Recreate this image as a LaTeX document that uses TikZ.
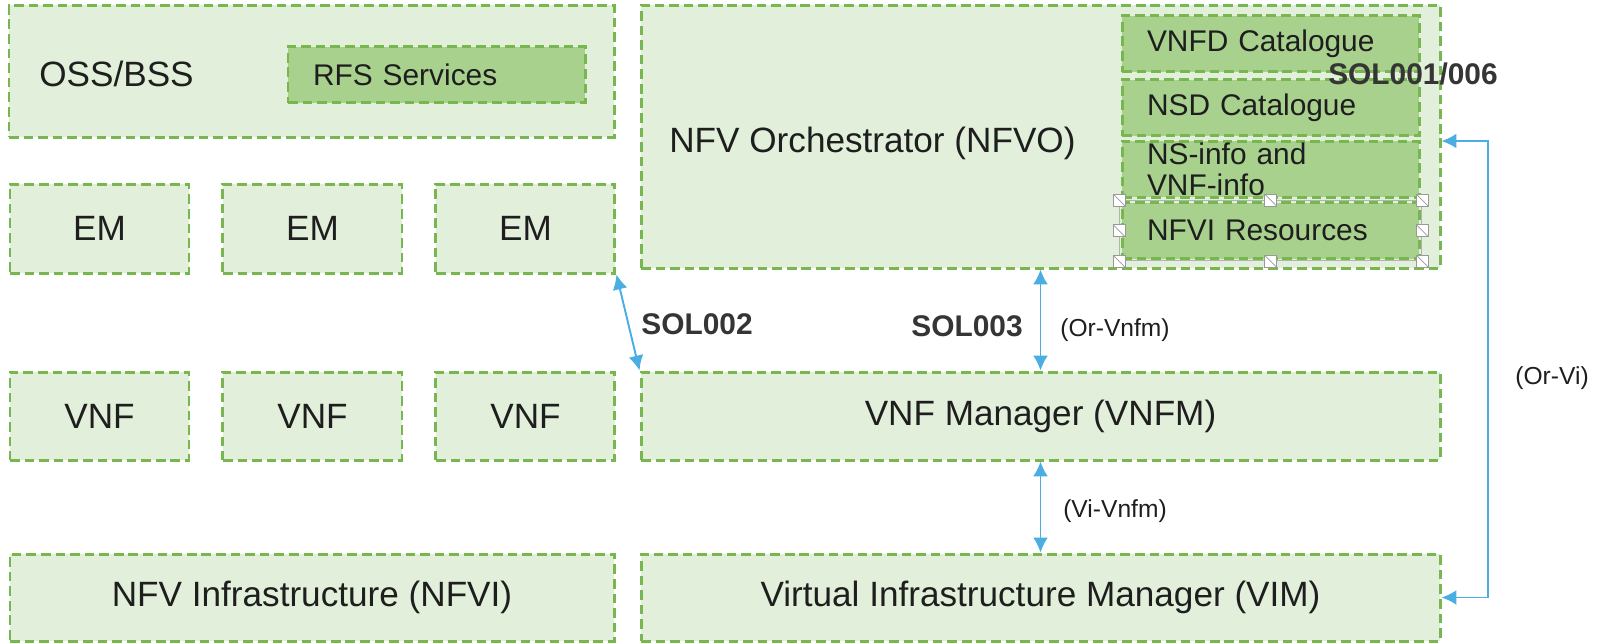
\documentclass[tikz,border=0pt]{standalone}
\usepackage{fontspec}
\setmainfont{Liberation Sans}
\usepackage{xcolor}
\usepackage{tikz}
\usetikzlibrary{arrows.meta, positioning, calc}

\definecolor{boxfill}{HTML}{E2EFDA}
\definecolor{subfill}{HTML}{A9D18E}
\definecolor{dashgreen}{HTML}{78B650}
\definecolor{linkblue}{HTML}{4AAEE3}
\definecolor{txt}{HTML}{1E1E1E}

\begin{document}
\begin{tikzpicture}[node distance=0.62cm, auto,
    block/.style={rectangle, draw=dashgreen, fill=boxfill, line width=1.7pt, dash pattern=on 5.5pt off 2.8pt, minimum width=3.58cm, minimum height=1.78cm, text centered, inner sep=0pt, text=txt, font=\fontsize{20}{24}\selectfont},
    subblock/.style={rectangle, draw=dashgreen, fill=subfill, line width=1.7pt, dash pattern=on 5.5pt off 2.8pt, minimum width=5.94cm, minimum height=1.12cm, text width=4.94cm, align=left, inner xsep=0.5cm, inner ysep=0pt, text=txt, font=\fontsize{17}{17.6}\selectfont},
    blocktext/.style={text=txt, font=\fontsize{20}{24}\selectfont, inner sep=0pt},
    sollabel/.style={text=txt!90, font=\bfseries\fontsize{17}{20}\selectfont, inner sep=0pt},
    ifacelabel/.style={text=txt, font=\fontsize{14}{16}\selectfont, inner sep=0pt},
    handle/.style={draw=gray!80, fill=white, line width=0.4pt, minimum size=6.8pt, inner sep=0pt, path picture={\draw[gray!80, line width=0.4pt] (path picture bounding box.north west) -- (path picture bounding box.south east);}},
    line/.style={draw=linkblue, line width=1.1pt, {Latex[length=8.5pt,width=8.5pt]}-{Latex[length=8.5pt,width=8.5pt]}}]

    \useasboundingbox (0,0) rectangle (32.02,-12.86);

    % management side
    \node [block, minimum width=12.1cm, minimum height=2.64cm] (oss) at (6.23,-1.42) {};
    \node [blocktext, anchor=west] (osstext) at (0.78,-1.47) {OSS/BSS};
    \node [subblock] (rfs) at (8.73,-1.49) {RFS Services};

    \node [block] (em1) at (1.99,-4.57) {EM};
    \node [block, right=of em1] (em2) {EM};
    \node [block, right=of em2] (em3) {EM};

    \node [block, minimum height=1.76cm] (vnf1) at (1.99,-8.32) {VNF};
    \node [block, minimum height=1.76cm, right=of vnf1] (vnf2) {VNF};
    \node [block, minimum height=1.76cm, right=of vnf2] (vnf3) {VNF};

    \node [block, minimum width=12.08cm, minimum height=1.74cm] (nfvi) at (6.24,-11.95) {NFV Infrastructure (NFVI)};

    % MANO side
    \node [block, minimum width=15.98cm, minimum height=5.26cm] (nfvo) at (20.81,-2.73) {};
    \node [blocktext, anchor=west] (nfvotext) at (13.38,-2.86) {NFV Orchestrator (NFVO)};
    \node [subblock] (vnfd) at (25.41,-0.87) {VNFD Catalogue};
    \node [subblock] (nsd) at (25.41,-2.15) {NSD Catalogue};
    \node [subblock] (nsinfo) at (25.41,-3.38) {NS-info and\\VNF-info};
    \node [subblock] (nfvires) at (25.41,-4.61) {NFVI Resources};

    % selection frame
    \node [draw=gray!60, line width=0.6pt, minimum width=6.04cm, minimum height=1.2cm, inner sep=0pt] (sel) at (nfvires) {};
    \foreach [count=\i] \a in {north west, north, north east, east, south east, south, south west, west}
        \node [handle] (h\i) at (sel.\a) {};

    \node [block, minimum width=15.98cm, minimum height=1.76cm] (vnfm) at (20.81,-8.32) {VNF Manager (VNFM)};
    \node [block, minimum width=15.98cm, minimum height=1.74cm] (vim) at (20.81,-11.95) {Virtual Infrastructure Manager (VIM)};

    \coordinate (orvi) at (29.76,-2.82);

    \path [line] (em3.south east) -- (vnfm.north west);
    \path [line] (nfvo.south) -- (vnfm.north);
    \path [line] (vnfm.south) -- (vim.north);
    \path [line] (nfvo.east |- orvi) -- (orvi) -- (vim.east -| orvi) -- (vim.east);

    \node [sollabel] (sol002) at (13.94,-6.48) {SOL002};
    \node [sollabel] (sol003) at (19.34,-6.52) {SOL003};
    \node [sollabel] (sol001) at (28.26,-1.48) {SOL001/006};
    \node [ifacelabel] (orvnfm) at (22.3,-6.6) {(Or-Vnfm)};
    \node [ifacelabel] (vivnfm) at (22.3,-10.22) {(Vi-Vnfm)};
    \node [ifacelabel] (orvilabel) at (31.04,-7.56) {(Or-Vi)};
\end{tikzpicture}
\end{document}
